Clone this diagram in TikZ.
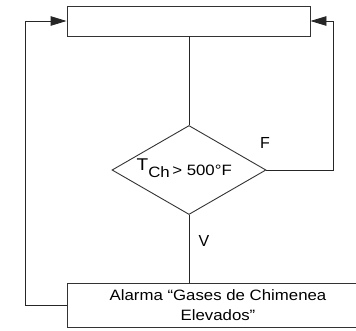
\documentclass[tikz,border=0pt]{standalone}
\usepackage{fontspec}
\setmainfont{Liberation Sans}
\newfontfamily\widefont{Liberation Sans}[FakeStretch=1.12]
\usetikzlibrary{shapes.geometric,arrows.meta}
\tikzset{
  ln/.style={line width=0.9pt, draw=black!85},
  boxst/.style={draw=black!80, line width=0.9pt, inner sep=0pt},
  arr/.style={ln, -{Triangle[length=16pt,width=9.5pt]}},
  lbl/.style={inner sep=0pt, font=\fontsize{16}{18}\selectfont},
}
\begin{document}
\begin{tikzpicture}[x=1pt,y=-1pt]
\clip (0,0) rectangle (356,330);
\useasboundingbox (0,0) rectangle (356,330);
\node[boxst, minimum width=243pt, minimum height=30pt] (top) at (188.5,21) {};
\node[boxst, diamond, minimum width=154pt, minimum height=89pt] (d) at (189,170) {};
\node[inner sep=0pt, anchor=base west, font=\widefont\fontsize{15}{17}\selectfont] (cond) at (136.5,175)
  {\raisebox{4.3pt}{\fontsize{17}{19}\selectfont T}\raisebox{-2.3pt}{Ch}\,> 500°F};
\node[boxst, minimum width=302pt, minimum height=44pt, align=center,
  font=\widefont\fontsize{15}{20}\selectfont] (bot) at (218,305)
  {Alarma “Gases de Chimenea\\Elevados”};
\coordinate (rc) at (333,170);
\coordinate (lc) at (25.5,305);
\draw[ln] (d.north) -- (d.north |- top.south);
\draw[ln] (d.south) -- (d.south |- bot.north);
\draw[arr] (d.east) -- (rc) |- (top.east);
\draw[arr] (bot.west) -- (lc) |- (top.west);
\node[lbl] (F) at (265,143) {F};
\node[lbl] (V) at (204,241) {V};
\end{tikzpicture}
\end{document}
